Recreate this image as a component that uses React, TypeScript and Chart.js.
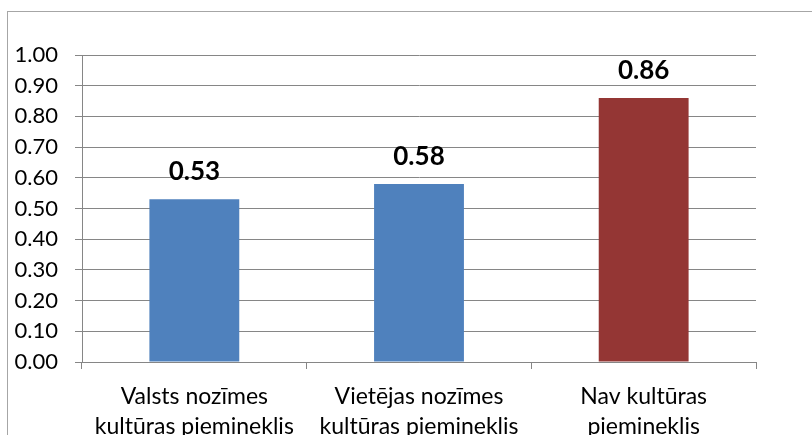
import React, { useEffect, useRef } from "react";
import { Chart, registerables } from "chart.js";

Chart.register(...registerables);

const categories: string[][] = [
  ["Valsts nozīmes", "kultūras piemineklis"],
  ["Vietējas nozīmes", "kultūras piemineklis"],
  ["Nav kultūras", "piemineklis"],
];
const values: number[] = [0.53, 0.58, 0.86];
const barColors: string[] = ["#4f81bd", "#4f81bd", "#943634"];
const yMin = 0;
const yMax = 1;
const yStep = 0.1;

const FONT = "Lato, 'Open Sans', sans-serif";

const borderPlugin = {
  id: "outerBorder",
  beforeDraw(chart: any) {
    const ctx = chart.ctx;
    ctx.save();
    ctx.strokeStyle = "#a6a6a6";
    ctx.lineWidth = 1;
    ctx.strokeRect(7.5, 11.5, chart.width + 20, chart.height + 20);
    ctx.restore();
  },
};

const labelPlugin = {
  id: "valueLabels",
  afterDatasetsDraw(chart: any) {
    const ctx = chart.ctx;
    const meta = chart.getDatasetMeta(0);
    ctx.save();
    ctx.font = `bold 26px ${FONT}`;
    ctx.fillStyle = "#000000";
    ctx.textAlign = "center";
    ctx.textBaseline = "alphabetic";
    meta.data.forEach((bar: any, i: number) => {
      ctx.fillText(values[i].toFixed(2), bar.x, bar.y - 19);
    });
    ctx.restore();
  },
};

export default function App() {
  const ref = useRef<HTMLCanvasElement>(null);
  useEffect(() => {
    if (!ref.current) return;
    const chart = new Chart(ref.current, {
      type: "bar",
      data: {
        labels: categories,
        datasets: [
          {
            data: values,
            backgroundColor: barColors,
            barPercentage: 0.4,
            categoryPercentage: 1,
          },
        ],
      },
      options: {
        animation: false,
        responsive: false,
        maintainAspectRatio: false,
        layout: { padding: { left: 0, right: 56, top: 55, bottom: 0 } },
        plugins: { legend: { display: false }, tooltip: { enabled: false } },
        scales: {
          x: {
            offset: true,
            grid: {
              offset: true,
              drawOnChartArea: false,
              drawTicks: true,
              tickLength: 7,
              color: "#868686",
            },
            border: { display: true, color: "#868686", width: 1 },
            ticks: {
              color: "#000000",
              font: { family: FONT, size: 23, lineHeight: 1.32 },
              padding: 12,
              maxRotation: 0,
              autoSkip: false,
            },
            afterFit(scale: any) {
              scale.height = 73;
            },
          },
          y: {
            min: yMin,
            max: yMax,
            grid: {
              color: "#868686",
              drawTicks: true,
              tickLength: 7,
            },
            border: { display: true, color: "#868686", width: 1 },
            ticks: {
              stepSize: yStep,
              color: "#000000",
              font: { family: FONT, size: 22 },
              padding: 17,
              callback: (v: any) => Number(v).toFixed(2),
            },
            afterFit(scale: any) {
              scale.width = 82;
            },
          },
        },
      },
      plugins: [borderPlugin, labelPlugin],
    });
    return () => chart.destroy();
  }, []);
  return (
    <div style={{ position: "fixed", left: 0, top: 0, width: 812, height: 435, background: "#fff" }}>
      <canvas ref={ref} width={812} height={435} style={{ display: "block" }} />
    </div>
  );
}
